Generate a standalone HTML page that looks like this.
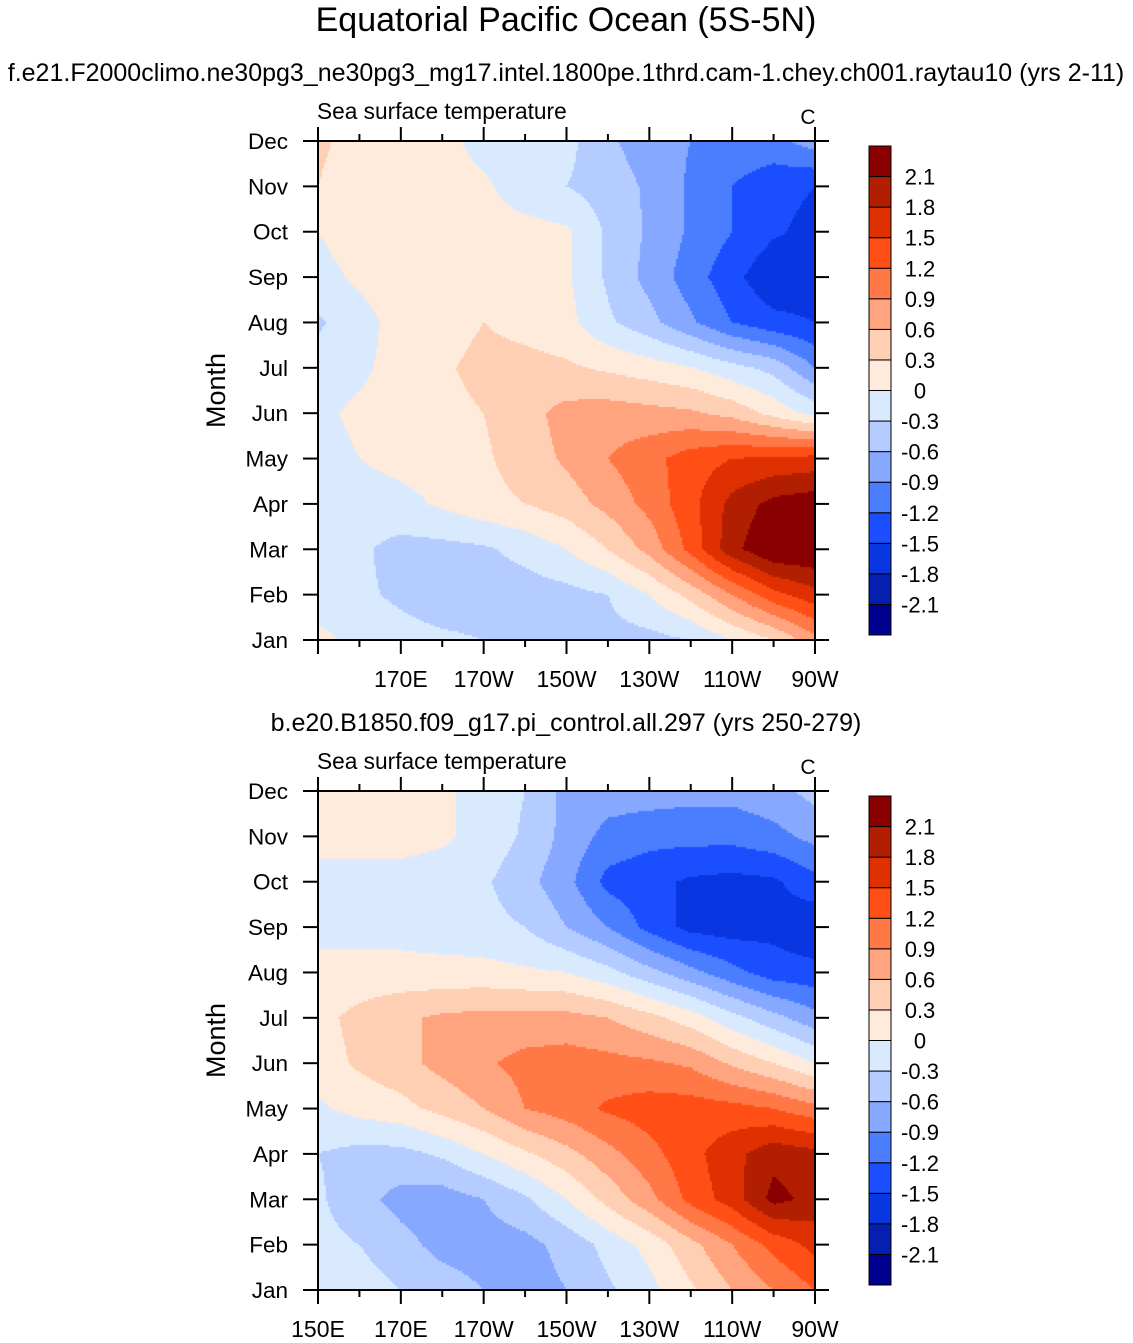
<!DOCTYPE html>
<html><head><meta charset="utf-8"><style>
html,body{margin:0;padding:0;background:#fff;}
body{width:1133px;height:1343px;position:relative;overflow:hidden;font-family:"Liberation Sans",sans-serif;}
canvas{position:absolute;left:0;top:0;}
svg{position:absolute;left:0;top:0;}
</style></head><body>
<canvas id="cv" width="1133" height="1343"></canvas>
<svg id="sv" width="1133" height="1343"></svg>
<script>
const months = ["Jan","Feb","Mar","Apr","May","Jun","Jul","Aug","Sep","Oct","Nov","Dec"];
const lons = [150,160,170,180,190,200,210,220,230,240,250,260,270];
const xTickLabels = ["150E","170E","170W","150W","130W","110W","90W"];
const xTickLons = [150,170,190,210,230,250,270];
const levels = [-2.1,-1.8,-1.5,-1.2,-0.9,-0.6,-0.3,0,0.3,0.6,0.9,1.2,1.5,1.8,2.1];
const colors = ["#000090","#0520b0","#0836e0","#1a4eff","#4b7dff","#86a8ff","#b4ccff","#d9eaff","#ffebdc","#ffcfb4","#ffa47e","#ff7846","#ff4f16","#de3000","#b21e00","#8a0000"];
// Top panel (rows Jan..Dec, columns 150E..90W)
const topData = [
[0.1,-0.1,-0.2,-0.25,-0.3,-0.35,-0.4,-0.4,-0.4,-0.3,0.0,0.3,0.8],
[-0.2,-0.25,-0.35,-0.45,-0.45,-0.45,-0.4,-0.3,0.0,0.4,0.9,1.4,1.7],
[-0.2,-0.25,-0.4,-0.4,-0.35,-0.2,0.0,0.3,0.7,1.3,2.0,2.4,2.4],
[-0.15,-0.15,-0.1,0.05,0.2,0.3,0.45,0.7,1.0,1.4,1.9,2.2,2.3],
[-0.1,0.0,0.1,0.15,0.25,0.45,0.65,0.9,1.1,1.35,1.5,1.55,1.6],
[-0.05,0.05,0.1,0.2,0.3,0.5,0.7,0.75,0.7,0.65,0.5,0.2,-0.1],
[-0.15,-0.05,0.1,0.25,0.4,0.4,0.35,0.25,0.15,0.02,-0.2,-0.4,-0.9],
[-0.35,-0.1,0.1,0.15,0.3,0.2,0.1,-0.25,-0.5,-0.85,-1.2,-1.4,-1.5],
[-0.1,0.05,0.15,0.15,0.15,0.1,0.05,-0.35,-0.7,-1.05,-1.4,-1.75,-1.7],
[0.0,0.15,0.15,0.15,0.1,0.1,0.05,-0.35,-0.65,-0.95,-1.2,-1.45,-1.6],
[0.3,0.15,0.15,0.1,0.05,-0.15,-0.3,-0.45,-0.65,-0.95,-1.2,-1.4,-1.5],
[0.35,0.2,0.15,0.1,-0.1,-0.2,-0.2,-0.55,-0.75,-0.9,-1.0,-1.0,-0.75]];
// Bottom panel
const botData = [
[0.0,-0.15,-0.3,-0.45,-0.6,-0.75,-0.6,-0.35,-0.1,0.25,0.6,0.9,1.2],
[-0.2,-0.3,-0.5,-0.7,-0.75,-0.7,-0.5,-0.2,0.1,0.5,0.9,1.3,1.6],
[-0.25,-0.5,-0.7,-0.75,-0.6,-0.35,0.0,0.4,0.8,1.3,1.65,2.2,2.0],
[-0.3,-0.4,-0.4,-0.25,0.0,0.25,0.5,0.8,1.1,1.4,1.7,2.0,1.9],
[-0.05,0.1,0.2,0.4,0.6,0.9,1.05,1.25,1.35,1.35,1.3,1.2,1.0],
[0.15,0.35,0.5,0.7,0.85,1.0,1.05,1.0,0.95,0.85,0.55,0.3,0.0],
[0.2,0.4,0.55,0.65,0.7,0.7,0.7,0.6,0.4,0.15,-0.2,-0.5,-0.8],
[0.05,0.1,0.1,0.1,0.1,0.05,0.0,-0.2,-0.5,-0.8,-1.1,-1.35,-1.4],
[-0.05,-0.1,-0.1,-0.15,-0.2,-0.3,-0.6,-0.9,-1.3,-1.6,-1.65,-1.6,-1.75],
[-0.1,-0.1,-0.1,-0.15,-0.25,-0.5,-0.8,-1.3,-1.4,-1.55,-1.6,-1.55,-1.3],
[0.1,0.1,0.1,0.05,-0.1,-0.35,-0.7,-1.0,-1.1,-1.1,-1.1,-1.0,-0.8],
[0.1,0.1,0.1,0.05,-0.1,-0.3,-0.7,-0.75,-0.75,-0.8,-0.8,-0.7,-0.5]];

const NS="http://www.w3.org/2000/svg";
const sv=document.getElementById('sv');
const ctx=document.getElementById('cv').getContext('2d');
function mk(tag,attrs,parent){const e=document.createElementNS(NS,tag);for(const k in attrs)e.setAttribute(k,attrs[k]);(parent||sv).appendChild(e);return e;}
function txt(x,y,s,size,anchor,name,extra){const t=mk('text',Object.assign({x:x,y:y,'font-size':size,'text-anchor':anchor||'start','font-family':'Liberation Sans, sans-serif',fill:'#000'},extra||{}));t.textContent=s;return t;}
function colorFor(v){let i=0;while(i<levels.length&&v>=levels[i])i++;return colors[i];}

txt(566,31,"Equatorial Pacific Ocean (5S-5N)",34,'middle','main-title');

function panel(data,top,subtitle,showFirstLabel,pname){
  const L=318,R=815,T=top,B=top+499;
  const xs=lon=>L+(lon-150)/120*(R-L);
  const ys=m=>B-m/11*(B-T);
  const step=2;
  for(let py=T;py<B;py+=step){
    const mf=(B-(py+step/2))/(B-T)*11;
    const m0=Math.min(10,Math.floor(mf)),fm=mf-m0;
    for(let px=L;px<R;px+=step){
      const lf=((px+step/2)-L)/(R-L)*12;
      const l0=Math.min(11,Math.floor(lf)),fl=lf-l0;
      const v=(data[m0][l0]*(1-fl)+data[m0][l0+1]*fl)*(1-fm)+(data[m0+1][l0]*(1-fl)+data[m0+1][l0+1]*fl)*fm;
      ctx.fillStyle=colorFor(v);
      ctx.fillRect(px,py,Math.min(step,R-px),Math.min(step,B-py));
    }
  }
  const g=mk('g',{});
  
  
  txt(566,top-60,subtitle,25,'middle',pname+'-subtitle');
  txt(317,top-22,"Sea surface temperature",22.7,'start',pname+'-left-label');
  txt(808,top-17,"C",21,'middle',pname+'-units');
  const fr=mk('rect',{x:L,y:T,width:R-L,height:B-T,fill:'none',stroke:'#000','stroke-width':2},g);
  
  
  months.forEach((m,i)=>{
    const y=ys(i);
    mk('line',{x1:303,y1:y,x2:L,y2:y,stroke:'#000','stroke-width':2},g);
    mk('line',{x1:R,y1:y,x2:R+14,y2:y,stroke:'#000','stroke-width':2},g);
    txt(288,y+8,m,22.5,'end',pname+'-month-label');
  });
  lons.forEach(lon=>{
    const x=xs(lon);const major=(lon-150)%20===0;const len=major?14:7;
    mk('line',{x1:x,y1:B,x2:x,y2:B+len,stroke:'#000','stroke-width':2},g);
    mk('line',{x1:x,y1:T,x2:x,y2:T-len,stroke:'#000','stroke-width':2},g);
  });
  xTickLabels.forEach((s,i)=>{
    if(i===0&&!showFirstLabel)return;
    txt(xs(xTickLons[i]),B+47,s,23,'middle',pname+'-lon-label');
  });
  txt(0,0,"Month",27,'middle',pname+'-y-axis-title',{transform:`translate(225,${(T+B)/2}) rotate(-90)`});
  const cT=top+5,cH=489,bh=cH/16;
  colors.forEach((c,i)=>{
    const r=mk('rect',{x:869,y:cT+cH-(i+1)*bh,width:22,height:bh,fill:c,stroke:'#000','stroke-width':1},g);
    
    
  });
  levels.forEach((lv,i)=>{
    const y=cT+cH-(i+1)*bh;
    txt(920,y+8,String(lv),22,'middle',pname+'-colorbar-label');
  });
}
panel(topData,141,"f.e21.F2000climo.ne30pg3_ne30pg3_mg17.intel.1800pe.1thrd.cam-1.chey.ch001.raytau10 (yrs 2-11)",false,'top-panel');
panel(botData,791,"b.e20.B1850.f09_g17.pi_control.all.297 (yrs 250-279)",true,'bottom-panel');
</script>
</body></html>
